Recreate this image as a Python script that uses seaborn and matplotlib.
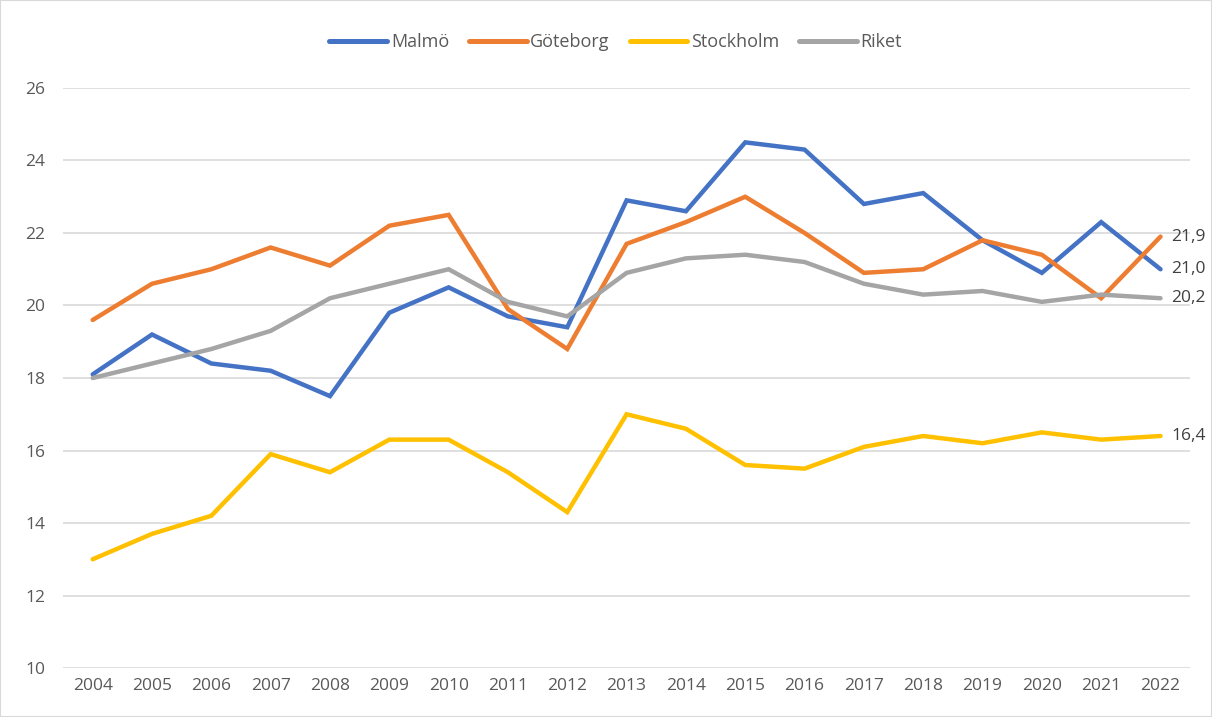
import numpy as np
import pandas as pd
import matplotlib
matplotlib.use("Agg")
import matplotlib.pyplot as plt
import seaborn as sns

years = list(range(2004, 2023))
malmo = [18.1, 19.2, 18.4, 18.2, 17.5, 19.8, 20.5, 19.7, 19.4, 22.9, 22.6, 24.5, 24.3, 22.8, 23.1, 21.8, 20.9, 22.3, 21.0]
goteborg = [19.6, 20.6, 21.0, 21.6, 21.1, 22.2, 22.5, 19.9, 18.8, 21.7, 22.3, 23.0, 22.0, 20.9, 21.0, 21.8, 21.4, 20.2, 21.9]
stockholm = [13.0, 13.7, 14.2, 15.9, 15.4, 16.3, 16.3, 15.4, 14.3, 17.0, 16.6, 15.6, 15.5, 16.1, 16.4, 16.2, 16.5, 16.3, 16.4]
riket = [18.0, 18.4, 18.8, 19.3, 20.2, 20.6, 21.0, 20.1, 19.7, 20.9, 21.3, 21.4, 21.2, 20.6, 20.3, 20.4, 20.1, 20.3, 20.2]
series_names = ["Malmö", "Göteborg", "Stockholm", "Riket"]
colors = ["#4472C4", "#ED7D31", "#FFC000", "#A5A5A5"]
y_ticks = [10, 12, 14, 16, 18, 20, 22, 24, 26]

sns.set_style("white")
plt.rcParams['font.family'] = ['Open Sans', 'DejaVu Sans']

frames = []
for name, vals in zip(series_names, [malmo, goteborg, stockholm, riket]):
    frames.append(pd.DataFrame({"idx": range(len(years)), "year": years, "value": vals, "serie": name}))
df = pd.concat(frames, ignore_index=True)

fig = plt.figure(figsize=(12.12, 7.17), dpi=100)
ax = fig.add_axes([0.052, 0.0683, 0.930, 0.809])

sns.lineplot(data=df, x="idx", y="value", hue="serie", hue_order=series_names,
             palette=colors, linewidth=3.2, ax=ax, legend=False, solid_capstyle="round",
             solid_joinstyle="miter")

ax.set_xlim(-0.5, len(years) - 0.5)
ax.set_ylim(10, 26)
ax.set_yticks(y_ticks)
ax.set_yticklabels([str(t) for t in y_ticks])
ax.set_xticks(range(len(years)))
ax.set_xticklabels([str(y) for y in years])
ax.tick_params(axis="both", colors="#595959", labelsize=12.5, length=0)
ax.tick_params(axis="y", pad=13)
ax.tick_params(axis="x", pad=7)
ax.grid(axis="y", color="#D9D9D9", linewidth=1.2)
ax.set_axisbelow(True)
for s in ax.spines.values():
    s.set_visible(False)
ax.set_xlabel("")
ax.set_ylabel("")

# end labels
last = len(years) - 1
for name, vals in zip(series_names, [malmo, goteborg, stockholm, riket]):
    ax.text(last + 0.18, vals[-1], f"{vals[-1]:.1f}".replace(".", ","), va="center", ha="left",
            fontsize=12.5, color="#404040", clip_on=False)

from matplotlib.lines import Line2D
handles = [Line2D([0], [0], color=c, linewidth=3.6, solid_capstyle="round") for c in colors]
fig.legend(handles, series_names, loc="center", bbox_to_anchor=(0.508, 0.941), ncol=4,
           frameon=False, fontsize=13, labelcolor="#595959", handlelength=3.2,
           handletextpad=0.2, columnspacing=1.1)

fig.patches.append(plt.Rectangle((0, 0), 1, 1, transform=fig.transFigure, fill=False,
                                 edgecolor="#D9D9D9", linewidth=1.5))
fig.savefig("out.png", dpi=100)
